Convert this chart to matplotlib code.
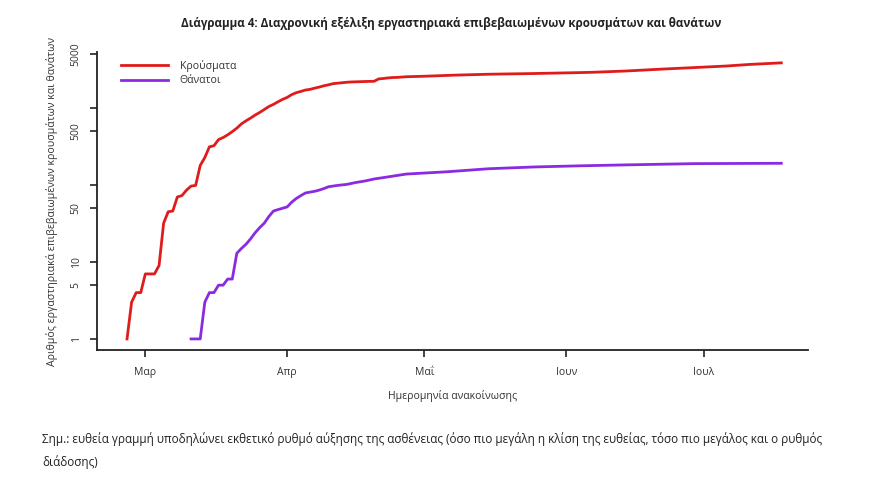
import matplotlib
matplotlib.use("Agg")
import matplotlib.pyplot as plt
import pandas as pd

plt.rcParams['font.family'] = ['Open Sans', 'DejaVu Sans']

# cumulative confirmed cases (date of announcement)
case_dates = [
    "2020-02-26", "2020-02-27", "2020-02-28", "2020-02-29", "2020-03-01", "2020-03-02",
    "2020-03-03", "2020-03-04", "2020-03-05", "2020-03-06", "2020-03-07", "2020-03-08",
    "2020-03-09", "2020-03-10", "2020-03-11", "2020-03-12", "2020-03-13", "2020-03-14",
    "2020-03-15", "2020-03-16", "2020-03-17", "2020-03-18", "2020-03-19", "2020-03-20",
    "2020-03-21", "2020-03-22", "2020-03-23", "2020-03-24", "2020-03-25", "2020-03-26",
    "2020-03-27", "2020-03-28", "2020-03-29", "2020-03-30", "2020-03-31", "2020-04-01",
    "2020-04-02", "2020-04-03", "2020-04-04", "2020-04-05", "2020-04-06", "2020-04-07",
    "2020-04-08", "2020-04-09", "2020-04-10", "2020-04-11", "2020-04-12", "2020-04-13",
    "2020-04-14", "2020-04-15", "2020-04-16", "2020-04-17", "2020-04-18", "2020-04-19",
    "2020-04-20", "2020-04-21", "2020-04-22", "2020-04-23", "2020-04-24", "2020-04-25",
    "2020-04-27", "2020-05-01", "2020-05-08", "2020-05-15", "2020-05-25", "2020-06-04",
    "2020-06-07", "2020-06-14", "2020-06-22", "2020-06-29", "2020-07-06", "2020-07-11",
    "2020-07-18",
]
cases = [
    1, 3, 4, 4, 7, 7,
    7, 9, 32, 45, 46, 70,
    73, 86, 97, 99, 180, 228,
    314, 325, 390, 415, 450, 495,
    550, 624, 684, 743, 813, 880,
    960, 1050, 1120, 1210, 1300, 1380,
    1500, 1590, 1650, 1720, 1755, 1820,
    1880, 1950, 2010, 2080, 2110, 2140,
    2170, 2190, 2200, 2210, 2220, 2230,
    2235, 2400, 2430, 2470, 2500, 2510,
    2560, 2600, 2690, 2760, 2820, 2900,
    2930, 3040, 3220, 3370, 3530, 3700,
    3880,
]

# cumulative deaths
death_dates = [
    "2020-03-11", "2020-03-12", "2020-03-13", "2020-03-14", "2020-03-15", "2020-03-16",
    "2020-03-17", "2020-03-18", "2020-03-19", "2020-03-20", "2020-03-21", "2020-03-22",
    "2020-03-23", "2020-03-24", "2020-03-25", "2020-03-26", "2020-03-27", "2020-03-28",
    "2020-03-29", "2020-03-30", "2020-03-31", "2020-04-01", "2020-04-02", "2020-04-03",
    "2020-04-04", "2020-04-05", "2020-04-06", "2020-04-07", "2020-04-08", "2020-04-09",
    "2020-04-10", "2020-04-12", "2020-04-14", "2020-04-16", "2020-04-18", "2020-04-20",
    "2020-04-22", "2020-04-27", "2020-05-06", "2020-05-15", "2020-05-25", "2020-06-04",
    "2020-06-14", "2020-06-29", "2020-07-18",
]
deaths = [
    1, 1, 1, 3, 4, 4,
    5, 5, 6, 6, 13, 15,
    17, 20, 24, 28, 32, 39,
    46, 48, 50, 52, 60, 67,
    73, 79, 81, 83, 86, 90,
    95, 99, 102, 108, 113, 120,
    125, 139, 149, 163, 172, 178,
    183, 190, 192,
]

month_ticks = ["2020-03-01", "2020-04-01", "2020-05-01", "2020-06-01", "2020-07-01"]
month_labels = ["Μαρ", "Απρ", "Μαΐ", "Ιουν", "Ιουλ"]
y_ticks = [1, 5, 10, 50, 100, 500, 1000, 5000]
y_labels = ["1", "5", "10", "50", "", "500", "", "5000"]

title = "Διάγραμμα 4: Διαχρονική εξέλιξη εργαστηριακά επιβεβαιωμένων κρουσμάτων και θανάτων"
ylab = "Αριθμός εργαστηριακά επιβεβαιωμένων κρουσμάτων και θανάτων"
xlab = "Ημερομηνία ανακοίνωσης"
note = ("Σημ.: ευθεία γραμμή υποδηλώνει εκθετικό ρυθμό αύξησης της ασθένειας (όσο πιο μεγάλη η κλίση της ευθείας, "
        "τόσο πιο μεγάλος και ο ρυθμός\nδιάδοσης)")

W, H = 880, 495
fig = plt.figure(figsize=(W / 100, H / 100), dpi=100)
ax = fig.add_axes([97 / W, 1 - 350 / H, (808 - 97) / W, (350 - 52) / H])

cd = pd.to_datetime(case_dates)
dd = pd.to_datetime(death_dates)
ax.plot(cd, cases, color="#e01b1b", lw=2.0, label="Κρούσματα", solid_joinstyle="round")
ax.plot(dd, deaths, color="#8a2be2", lw=2.0, label="Θάνατοι", solid_joinstyle="round")

ax.set_yscale("log")
ax.set_ylim(10 ** -0.144, 10 ** 3.73)
ax.set_xlim(pd.Timestamp("2020-02-19 10:30"), pd.Timestamp("2020-07-23 20:00"))

ax.set_yticks(y_ticks)
ax.set_yticklabels(y_labels, rotation=90, va="center", fontsize=7.5)
ax.yaxis.set_minor_locator(matplotlib.ticker.NullLocator())
ax.set_xticks(pd.to_datetime(month_ticks))
ax.set_xticklabels(month_labels, fontsize=7.5)

for s in ["top", "right"]:
    ax.spines[s].set_visible(False)
for s in ["left", "bottom"]:
    ax.spines[s].set_linewidth(1.3)
    ax.spines[s].set_color("#222222")
ax.tick_params(axis="both", length=5, width=1.2, color="#222222", labelcolor="#333333")
ax.tick_params(axis="y", pad=6)
ax.tick_params(axis="x", pad=7)

ax.set_ylabel(ylab, fontsize=7.6, color="#333333", labelpad=9)
ax.set_xlabel(xlab, fontsize=7.6, color="#333333", labelpad=9)

leg = ax.legend(loc="upper left", bbox_to_anchor=(0.02, 1.005), frameon=False,
                fontsize=7.6, handlelength=4.5, handletextpad=1.1, labelspacing=0.32)
for t in leg.get_texts():
    t.set_color("#333333")

fig.text(451 / W, 1 - 24 / H, title, ha="center", va="center", fontsize=8.4, fontweight="bold",
         color="#222222")
fig.text(42 / W, 1 - 451 / H, note, ha="left", va="center", fontsize=8.5, color="#222222",
         linespacing=1.85)

fig.savefig("out.png", dpi=100, facecolor="white")
